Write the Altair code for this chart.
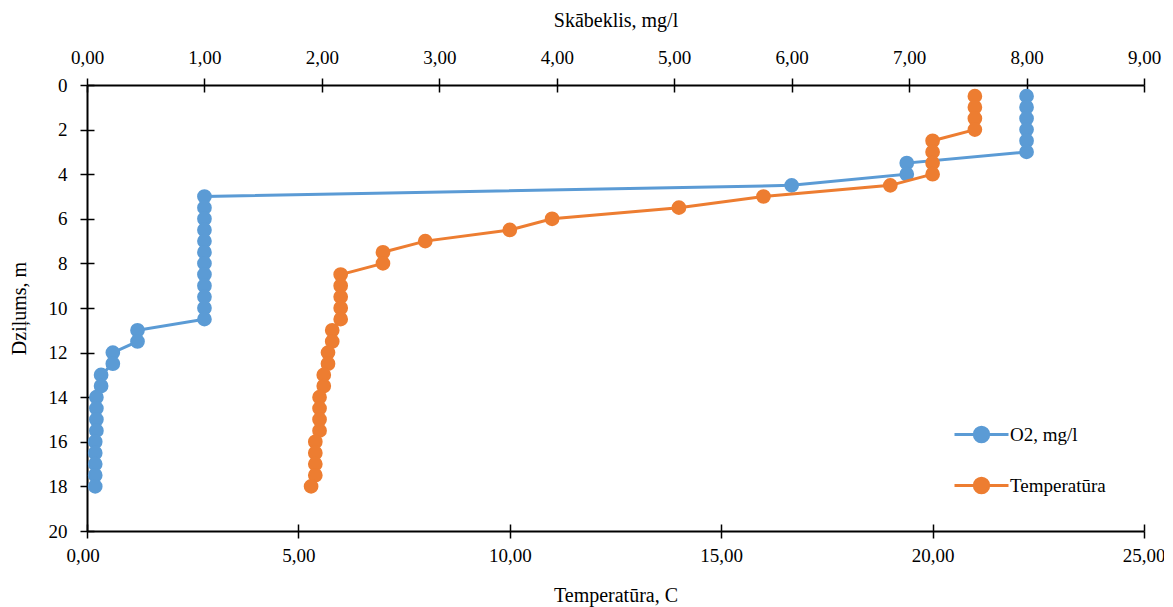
import altair as alt
import pandas as pd

# ---- data ----
depth = [0.5, 1.0, 1.5, 2.0, 2.5, 3.0, 3.5, 4.0, 4.5, 5.0, 5.5, 6.0,
         6.5, 7.0, 7.5, 8.0, 8.5, 9.0, 9.5, 10.0, 10.5, 11.0, 11.5, 12.0,
         12.5, 13.0, 13.5, 14.0, 14.5, 15.0, 15.5, 16.0, 16.5, 17.0, 17.5, 18.0]

oxygen = [8.00, 8.00, 8.00, 8.00, 8.00, 8.00, 6.98, 6.98, 6.00, 1.00, 1.00, 1.00,
          1.00, 1.00, 1.00, 1.00, 1.00, 1.00, 1.00, 1.00, 1.00, 0.43, 0.43, 0.22,
          0.22, 0.12, 0.12, 0.08, 0.08, 0.08, 0.08, 0.07, 0.07, 0.07, 0.07, 0.07]

temperature = [21.0, 21.0, 21.0, 21.0, 20.0, 20.0, 20.0, 20.0, 19.0, 16.0, 14.0, 11.0,
               10.0, 8.0, 7.0, 7.0, 6.0, 6.0, 6.0, 6.0, 6.0, 5.8, 5.8, 5.7,
               5.7, 5.6, 5.6, 5.5, 5.5, 5.5, 5.5, 5.4, 5.4, 5.4, 5.4, 5.3]

series_names = ["O2, mg/l", "Temperatūra"]
series_colors = ["#5B9BD5", "#ED7D31"]

top_ticks = [0, 1, 2, 3, 4, 5, 6, 7, 8, 9]
bottom_ticks = [0, 5, 10, 15, 20, 25]
depth_ticks = [0, 2, 4, 6, 8, 10, 12, 14, 16, 18, 20]

df_o2 = pd.DataFrame({"depth": depth, "value": oxygen, "series": series_names[0]})
df_t = pd.DataFrame({"depth": depth, "value": temperature, "series": series_names[1]})

FONT = "Times New Roman, Liberation Serif, serif"
label_expr = "replace(format(datum.value, '.2f'), '.', ',')"
symbol_path = "M-1.125,0H1.125M0.3,0A0.3,0.3,0,1,1,-0.3,0A0.3,0.3,0,1,1,0.3,0Z"

grid_common = dict(grid=True, gridDash=[7, 5000], gridColor="black", gridWidth=1.5, gridOpacity=1)

color = alt.Color(
    "series:N",
    scale=alt.Scale(domain=series_names, range=series_colors),
    legend=alt.Legend(
        title=None, orient="none", legendX=869, legendY=324,
        symbolType=symbol_path, symbolSize=2304, symbolStrokeWidth=3,
        symbolOpacity=1,
        labelFont=FONT, labelFontSize=19, labelColor="black", labelOffset=3,
        rowPadding=12, padding=0,
    ),
)

y = alt.Y(
    "depth:Q",
    scale=alt.Scale(domain=[0, 20], reverse=True, nice=False),
    axis=alt.Axis(title="Dziļums, m", values=depth_ticks, format="d",
                  labelPadding=13, titlePadding=19, **grid_common),
)

x_top = alt.X(
    "value:Q",
    scale=alt.Scale(domain=[0, 9], nice=False),
    axis=alt.Axis(orient="top", title="Skābeklis, mg/l", values=top_ticks,
                  labelExpr=label_expr, labelFlush=False, labelPadding=11,
                  titlePadding=18, **grid_common),
)

x_bottom = alt.X(
    "value:Q",
    scale=alt.Scale(domain=[0, 25], nice=False),
    axis=alt.Axis(orient="bottom", title="Temperatūra, C", values=bottom_ticks,
                  labelExpr=label_expr, labelFlush=True, labelFlushOffset=21,
                  labelPadding=8, titlePadding=20, **grid_common),
)

point_def = alt.OverlayMarkDef(size=217, filled=True, opacity=1)

o2_layer = alt.Chart(df_o2).mark_line(point=point_def, strokeWidth=3).encode(
    x=x_top, y=y, color=color, order="depth:Q")

t_layer = alt.Chart(df_t).mark_line(point=point_def, strokeWidth=3).encode(
    x=x_bottom, y=y, color=color, order="depth:Q")

chart = (
    alt.layer(o2_layer, t_layer)
    .resolve_scale(x="independent")
    .properties(width=1057, height=446,
                autosize=alt.AutoSizeParams(type="none"),
                padding={"left": 79, "top": 77, "right": 20, "bottom": 76})
    .configure_view(stroke=None)
    .configure_axis(
        labelFont=FONT, labelFontSize=19, labelColor="black",
        titleFont=FONT, titleFontSize=20, titleFontWeight="normal", titleColor="black",
        domainColor="black", domainWidth=2, tickColor="black", tickWidth=1.5, tickSize=7,
    )
)

chart.save("out.html", embed_options={"renderer": "svg", "actions": False})
